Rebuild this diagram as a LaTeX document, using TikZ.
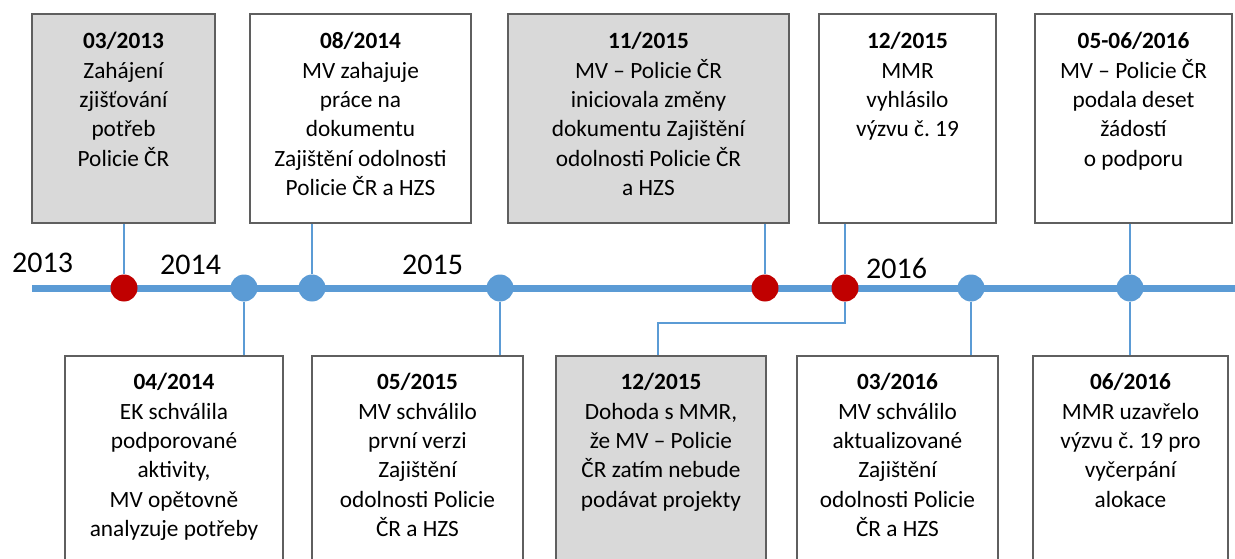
\documentclass[tikz,border=0pt]{standalone}
\usepackage{fontspec}
\setmainfont{Carlito}
\frenchspacing
\definecolor{tlblue}{HTML}{5B9BD5}
\definecolor{tlred}{HTML}{C00000}
\definecolor{boxgray}{HTML}{D9D9D9}
\definecolor{boxline}{HTML}{5F5F5F}
\tikzset{
  evbox/.style={draw=boxline, line width=2pt, rectangle, inner sep=0pt, fill=white},
  graybox/.style={evbox, fill=boxgray},
  evtext/.style={anchor=north, align=center, inner sep=0pt, font=\fontsize{23.3}{29.4}\selectfont},
  dotblue/.style={circle, fill=tlblue, minimum size=27pt, inner sep=0pt},
  dotred/.style={circle, fill=tlred, minimum size=27pt, inner sep=0pt},
  conn/.style={draw=tlblue, line width=2pt},
  tline/.style={draw=tlblue, line width=7pt},
  yearlbl/.style={font=\fontsize{30}{36}\selectfont, anchor=base west, inner sep=0pt},
}
\newcommand{\fl}{\rule{0pt}{20pt}}
\begin{document}
\begin{tikzpicture}[x=1pt,y=-1pt]
\useasboundingbox (0,0) rectangle (1235,559);
\clip (0,0) rectangle (1235,559);
% top boxes
\node[graybox, minimum width=183pt, minimum height=209pt] (t1) at (123.5,118.5) {};
\node[evbox,   minimum width=221pt, minimum height=209pt] (t2) at (360.5,118.5) {};
\node[graybox, minimum width=281pt, minimum height=209pt] (t3) at (648.5,118.5) {};
\node[evbox,   minimum width=177pt, minimum height=209pt] (t4) at (907.5,118.5) {};
\node[evbox,   minimum width=197pt, minimum height=209pt] (t5) at (1133.5,118.5) {};
\node[evtext] (t1x) at ([yshift=-15.5pt]t1.north) {\fl\textbf{03/2013}\\Zahájení\\zjišťování\\potřeb\\Policie ČR};
\node[evtext] (t2x) at ([yshift=-15.5pt]t2.north) {\fl\textbf{08/2014}\\MV zahajuje\\práce na\\dokumentu\\Zajištění odolnosti\\Policie ČR a HZS};
\node[evtext] (t3x) at ([yshift=-15.5pt]t3.north) {\fl\textbf{11/2015}\\MV – Policie ČR\\iniciovala změny\\dokumentu Zajištění\\odolnosti Policie ČR\\a HZS};
\node[evtext] (t4x) at ([yshift=-15.5pt]t4.north) {\fl\textbf{12/2015}\\MMR\\vyhlásilo\\výzvu č. 19};
\node[evtext] (t5x) at ([yshift=-15.5pt]t5.north) {\fl\textbf{05-06/2016}\\MV – Policie ČR\\podala deset\\žádostí\\o podporu};
% bottom boxes
\node[evbox,   minimum width=218pt, minimum height=244pt] (b1) at (174,478) {};
\node[evbox,   minimum width=211pt, minimum height=244pt] (b2) at (417.5,478) {};
\node[graybox, minimum width=210pt, minimum height=244pt] (b3) at (661,478) {};
\node[evbox,   minimum width=201pt, minimum height=244pt] (b4) at (897.5,478) {};
\node[evbox,   minimum width=195pt, minimum height=244pt] (b5) at (1130.5,478) {};
\node[evtext] (b1x) at ([yshift=-14.5pt]b1.north) {\fl\textbf{04/2014}\\EK schválila\\podporované\\aktivity,\\MV opětovně\\analyzuje potřeby};
\node[evtext] (b2x) at ([yshift=-14.5pt]b2.north) {\fl\textbf{05/2015}\\MV schválilo\\první verzi\\Zajištění\\odolnosti Policie\\ČR a HZS};
\node[evtext] (b3x) at ([yshift=-14.5pt]b3.north) {\fl\textbf{12/2015}\\Dohoda s MMR,\\že MV – Policie\\ČR zatím nebude\\podávat projekty};
\node[evtext] (b4x) at ([yshift=-14.5pt]b4.north) {\fl\textbf{03/2016}\\MV schválilo\\aktualizované\\Zajištění\\odolnosti Policie\\ČR a HZS};
\node[evtext] (b5x) at ([yshift=-14.5pt]b5.north) {\fl\textbf{06/2016}\\MMR uzavřelo\\výzvu č. 19 pro\\vyčerpání\\alokace};
% years
\node[yearlbl] (y13) at (12,272) {2013};
\node[yearlbl] (y14) at (160,274) {2014};
\node[yearlbl] (y15) at (402,274) {2015};
\node[yearlbl] (y16) at (866,278) {2016};
% timeline
\coordinate (ls) at (32,288);
\coordinate (le) at (1240,288);
\draw[tline] (ls) -- (le);
% dots
\node[dotred]  (r1) at (124,288) {};
\node[dotblue] (d1) at (244,288) {};
\node[dotblue] (d2) at (312,288) {};
\node[dotblue] (d3) at (500,288) {};
\node[dotred]  (r2) at (765,288) {};
\node[dotred]  (r3) at (845,288) {};
\node[dotblue] (d4) at (971,288) {};
\node[dotblue] (d5) at (1130,288) {};
% connectors up
\draw[conn] (r1) -- (r1 |- t1.south);
\draw[conn] (d2) -- (d2 |- t2.south);
\draw[conn] (r2) -- (r2 |- t3.south);
\draw[conn] (r3) -- (r3 |- t4.south);
\draw[conn] (d5) -- (d5 |- t5.south);
% connectors down
\draw[conn] (d1) -- (d1 |- b1.north);
\draw[conn] (d3) -- (d3 |- b2.north);
\coordinate (bend) at (658,323);
\draw[conn] (r3) |- (bend) -- (bend |- b3.north);
\draw[conn] (d4) -- (d4 |- b4.north);
\draw[conn] (d5) -- (d5 |- b5.north);
\end{tikzpicture}
\end{document}
